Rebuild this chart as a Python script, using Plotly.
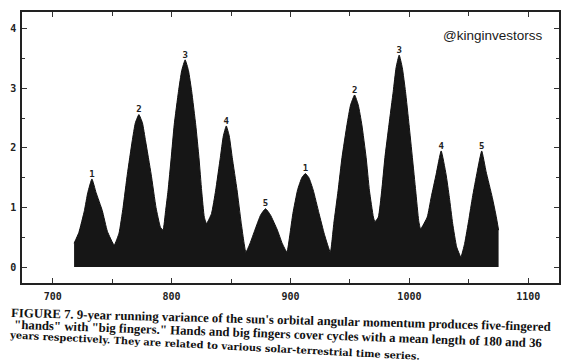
import plotly.graph_objects as go

# ---- data ----
years = [718, 722, 726.7, 729.5, 733, 736.5, 741.7, 746, 751.7,
         755.8, 759.2, 762.8, 766.9, 769.5, 772.5, 775.5, 778.1, 782.8, 786.9, 790.6, 792.8,
         795, 797, 799.7, 802.2, 805.8, 808.5, 811.4, 814.2, 816.9, 820.3, 823, 825.3, 827.5, 829.4,
         833.6, 837, 841, 843.5, 846, 848.5, 851, 855, 858.5, 862.5,
         866, 870, 875, 879, 883, 889, 893, 897,
         899.5, 902, 906, 909.5, 912.5, 915.5, 919, 924, 928.5, 933.5,
         936.4, 940, 943.3, 947.5, 950.5, 953.9, 957, 960, 963.6, 966.4, 969.7, 971,
         973.9, 976.7, 979.4, 982.8, 986.4, 988.8, 991.4, 994, 996.7, 999.7, 1002.5, 1005.3, 1007.8, 1009.4,
         1015, 1018.3, 1022.5, 1026.7, 1030.8, 1033.6, 1036.4, 1039.7, 1043.3,
         1046.5, 1050, 1053, 1057, 1060.8, 1064.5, 1069.7, 1073, 1075]
variance = [0.40, 0.58, 0.95, 1.25, 1.48, 1.25, 0.95, 0.60, 0.37,
            0.57, 1.00, 1.56, 2.12, 2.42, 2.56, 2.42, 2.12, 1.56, 1.00, 0.67, 0.62,
            0.95, 1.28, 1.84, 2.39, 2.95, 3.30, 3.48, 3.30, 2.95, 2.39, 1.84, 1.28, 0.84, 0.73,
            0.90, 1.28, 1.84, 2.20, 2.37, 2.20, 1.84, 1.30, 0.75, 0.25,
            0.40, 0.62, 0.88, 0.98, 0.88, 0.62, 0.40, 0.25,
            0.55, 0.90, 1.30, 1.50, 1.57, 1.50, 1.30, 0.90, 0.55, 0.25,
            0.73, 1.28, 1.84, 2.39, 2.72, 2.89, 2.72, 2.39, 1.84, 1.28, 0.84, 0.76,
            0.84, 1.28, 1.84, 2.39, 2.95, 3.35, 3.56, 3.35, 2.95, 2.39, 1.84, 1.28, 0.78, 0.64,
            0.84, 1.17, 1.56, 1.95, 1.56, 1.17, 0.73, 0.34, 0.17,
            0.40, 0.80, 1.17, 1.60, 1.95, 1.60, 1.17, 0.85, 0.62]

peak_years = [733, 772.5, 811.4, 846, 879, 912.5, 953.9, 991.4, 1026.7, 1060.8]
peak_labels = ["1", "2", "3", "4", "5", "1", "2", "3", "4", "5"]

x_ticks = [700, 800, 900, 1000, 1100]
y_ticks = [0, 1, 2, 3, 4]

caption_lines = [
    "FIGURE 7. 9-year running variance of the sun's orbital angular momentum produces five-fingered",
    "\"hands\" with \"big fingers.\" Hands and big fingers cover cycles with a mean length of 180 and 36",
    "years respectively. They are related to various solar-terrestrial time series.",
]
watermark = "@kinginvestorss"

lookup = dict(zip(years, variance))
peak_vals = [lookup[y] for y in peak_years]

fig = go.Figure()
fig.add_trace(go.Scatter(
    x=years, y=variance, mode="lines", fill="tozeroy",
    line=dict(color="#111111", width=1, shape="spline", smoothing=0.4),
    fillcolor="#161616", hoverinfo="skip",
))
fig.add_trace(go.Scatter(
    x=peak_years, y=peak_vals, mode="text", text=peak_labels,
    textposition="top center",
    textfont=dict(family="DejaVu Sans Mono", size=9, color="#222", weight="bold"),
    hoverinfo="skip",
))

tickfont = dict(family="DejaVu Sans Mono", size=10, color="#222", weight="bold")
fig.update_xaxes(
    range=[674.2, 1125.8], tickvals=x_ticks, ticktext=[str(v) for v in x_ticks],
    ticks="inside", ticklen=5, tickcolor="#333", showline=True, linecolor="#222",
    linewidth=1.5, mirror="allticks", showgrid=False, zeroline=False,
    tickfont=tickfont, ticklabelstandoff=3,
    minor=dict(dtick=50, tick0=700, ticks="inside", ticklen=4, tickcolor="#333", showgrid=False),
)
fig.update_yaxes(
    range=[-0.267, 4.283], tickvals=y_ticks, ticktext=[str(v) for v in y_ticks],
    ticks="inside", ticklen=5, tickcolor="#333", showline=True, linecolor="#222",
    linewidth=1.5, mirror="allticks", showgrid=False, zeroline=False,
    tickfont=tickfont, ticklabelstandoff=2,
    minor=dict(dtick=0.5, tick0=0, ticks="inside", ticklen=3, tickcolor="#333", showgrid=False),
)

caption_styles = [
    (0.483, -0.1355, 1.5, "Liberation Serif", 12.8),
    (0.478, -0.1886, 2.0, "Liberation Serif", 12.8),
    (0.358, -0.2308, 3.0, "DejaVu Serif", 9.8),
]
for line, (px, py, ang, fam, fs) in zip(caption_lines, caption_styles):
    fig.add_annotation(
        text=line, xref="paper", yref="paper", x=px, y=py, xanchor="center", yanchor="middle",
        showarrow=False, textangle=ang,
        font=dict(family=fam, size=fs, color="#111", weight="bold"),
    )
fig.add_annotation(
    text=watermark, xref="paper", yref="paper", x=0.876, y=0.912, xanchor="center",
    yanchor="middle", showarrow=False,
    font=dict(family="Liberation Sans", size=13.5, color="#1a1a1a"),
)

fig.update_layout(
    width=579, height=364, margin=dict(l=17, r=20, t=10, b=81),
    paper_bgcolor="white", plot_bgcolor="white", showlegend=False,
)
fig.write_html("out.html")
